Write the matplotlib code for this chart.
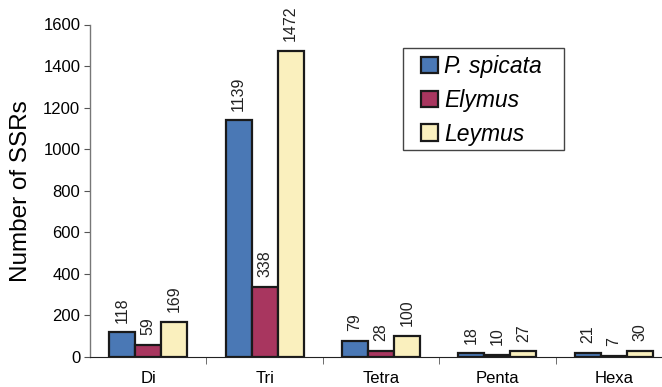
import numpy as np
import matplotlib
matplotlib.use("Agg")
import matplotlib.pyplot as plt
from matplotlib.patches import Rectangle

plt.rcParams['font.family'] = ['Liberation Sans', 'DejaVu Sans']

# Data
categories = ['Di', 'Tri', 'Tetra', 'Penta', 'Hexa']
series_names = ['P. spicata', 'Elymus', 'Leymus']
p_spicata = [118, 1139, 79, 18, 21]
elymus = [59, 338, 28, 10, 7]
leymus = [169, 1472, 100, 27, 30]
colors = ['#4a78b5', '#a8365f', '#faf0be']

W, H = 662, 387
fig = plt.figure(figsize=(W / 100, H / 100), dpi=100)
ax = fig.add_axes([90 / W, 30 / H, 1 - 90 / W, 332.5 / H])

x = np.arange(len(categories))
width = 0.223
for i, (vals, name) in enumerate(zip([p_spicata, elymus, leymus], series_names)):
    pos = x + (i - 1) * width
    ax.bar(pos, vals, width, color=colors[i], edgecolor='#1a1a1a', linewidth=1.6,
           label=name, zorder=3)
    for px, v in zip(pos, vals):
        ax.annotate(str(v), (px, v), xytext=(0, 7), textcoords='offset points',
                    rotation=90, ha='center', va='bottom', fontsize=11.5, color='#222222')

ax.set_xlim(-0.5, 4.5 - 10 / 116.5)
ax.set_ylim(0, 1600)
ax.set_yticks(range(0, 1601, 200))
ax.set_xticks(x)
ax.set_xticklabels(categories, fontsize=12)
ax.set_xticks(np.arange(0.5, 4.5, 1), minor=True)
ax.tick_params(axis='x', which='major', length=0, pad=10)
ax.tick_params(axis='x', which='minor', length=5, direction='out', color='#555555')
ax.tick_params(axis='y', labelsize=12, length=4, color='#555555', direction='out', pad=3)

ax.spines['top'].set_visible(False)
ax.spines['right'].set_visible(False)
ax.spines['left'].set_color('#777777')
ax.spines['bottom'].set_color('#222222')
ax.spines['left'].set_linewidth(1.0)

ax.set_ylabel('Number of SSRs', fontsize=17.5, labelpad=8)

# legend without its own frame, box drawn separately
leg = ax.legend(loc='upper left', bbox_to_anchor=(421 / W, (H - 55) / H),
                bbox_transform=fig.transFigure, frameon=False,
                prop={'style': 'italic', 'size': 16.5}, handlelength=0.72, handleheight=0.72,
                labelspacing=0.47, borderpad=0, handletextpad=0.3, borderaxespad=0)
fig.patches.append(Rectangle((403 / W, (H - 150) / H), 161 / W, 102 / H,
                             transform=fig.transFigure, fill=False,
                             edgecolor='#444444', linewidth=1.0))

fig.savefig('out.png', dpi=100)
